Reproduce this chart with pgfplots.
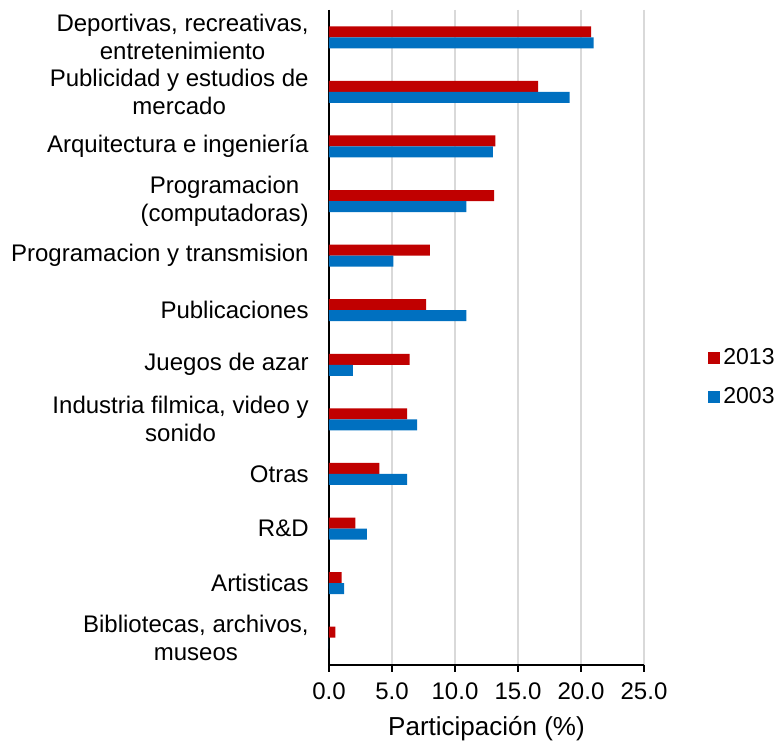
\documentclass[border=0pt]{standalone}
\usepackage{pgfplots}
\pgfplotsset{compat=1.18}
\usepackage{fontspec}
\setmainfont{Liberation Sans}
\definecolor{cred}{HTML}{C00000}
\definecolor{cblue}{HTML}{0070C0}
\definecolor{cgrid}{HTML}{D9D9D9}
\begin{document}
\begin{tikzpicture}
\useasboundingbox (0,0) rectangle (391pt,373.5pt);
\begin{axis}[
  at={(164.5pt,41pt)}, anchor=south west,
  scale only axis, width=157.5pt, height=327.5pt,
  xmin=0, xmax=25, ymin=-0.5, ymax=11.5, y dir=reverse,
  xtick={0,5,10,15,20,25}, ytick={0,1,2,3,4,5,6,7,8,9,10,11},
  yticklabels={{Deportivas, recreativas,\\entretenimiento},
    {Publicidad y estudios de\\mercado},
    {Arquitectura e ingeniería},
    {Programacion\\(computadoras)},
    {Programacion y transmision},
    {Publicaciones},
    {Juegos de azar},
    {Industria filmica, video y\\sonido},
    {Otras},
    {R\&D},
    {Artisticas},
    {Bibliotecas, archivos,\\museos}},
  axis x line*=bottom, axis y line*=left,
  axis line style={black, line width=1.3pt, -},
  xmajorgrids, grid style={cgrid, line width=0.8pt},
  tick align=outside,
  xtick style={black, line width=1.2pt},
  ytick style={draw=none},
  major tick length=3.5pt,
  yticklabel style={align=center, font=\fontsize{12}{14}\selectfont, inner sep=0pt, xshift=-6.5pt},
  xticklabel style={font=\fontsize{12}{14}\selectfont, yshift=-2pt},
  xticklabel={\pgfmathprintnumber[fixed, fixed zerofill, precision=1, assume math mode=true]{\tick}},
  xlabel={Participación (\%)},
  xlabel style={font=\fontsize{13}{15}\selectfont, yshift=-1.5pt},
  legend style={draw=none, fill=none, at={(axis description cs:1,0.439)}, anchor=west, xshift=32pt,
    font=\fontsize{11.5}{13}\selectfont, row sep=7pt, inner sep=0pt,
    nodes={inner sep=1.5pt}},
  legend cell align=left,
  legend image code/.code={\fill[#1] (0pt,-3pt) rectangle (6pt,3pt);},
]
\addplot[xbar, bar width=5.5pt, bar shift=2.75pt, fill=cred, draw=none] coordinates {
(20.8,0) (16.6,1) (13.2,2) (13.1,3) (8.0,4) (7.7,5) (6.4,6) (6.2,7) (4.0,8) (2.1,9) (1.0,10) (0.5,11)};
\addplot[xbar, bar width=5.5pt, bar shift=-2.75pt, fill=cblue, draw=none] coordinates {
(21.0,0) (19.1,1) (13.0,2) (10.9,3) (5.1,4) (10.9,5) (1.9,6) (7.0,7) (6.2,8) (3.0,9) (1.2,10) (0.0,11)};
\legend{2013,2003}
\end{axis}
\end{tikzpicture}
\end{document}
